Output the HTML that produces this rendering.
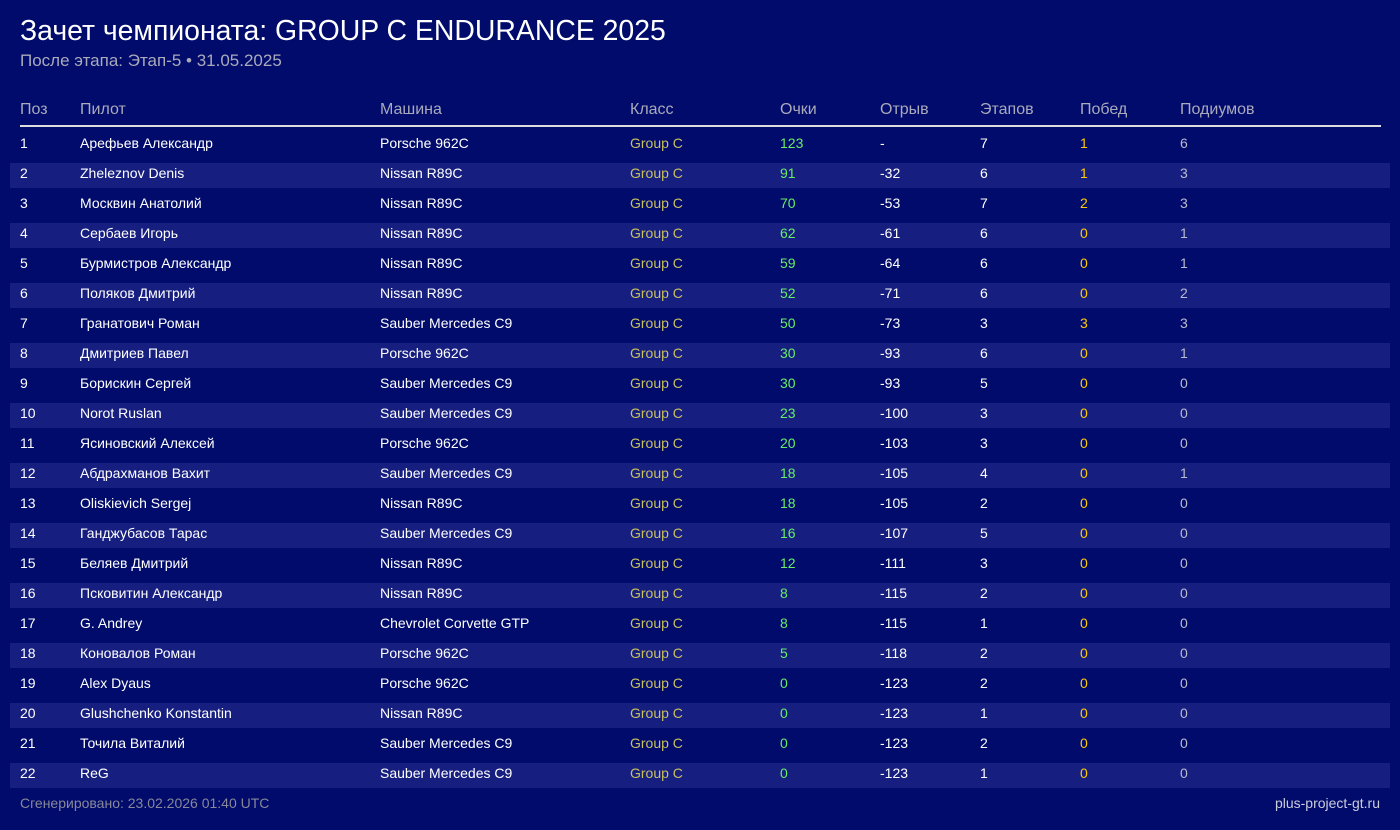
<!DOCTYPE html>
<html><head><meta charset="utf-8"><style>
body{margin:0;width:1400px;height:830px;background:#000b6b;font-family:"Liberation Sans",sans-serif;position:relative;overflow:hidden;color:#fff}
.t{position:absolute;left:20px;top:15px;font-size:28.4px;color:#fff}
.s{position:absolute;left:20px;top:51px;font-size:17px;color:#aab}
.h{position:absolute;top:101px;font-size:16px;color:#aab}
.line{position:absolute;left:20px;top:125px;width:1361px;height:2px;background:#ddd}
.r{position:absolute;left:10px;width:1380px;height:25px}
.r.a{background:#161e80}
.c{position:absolute;font-size:14px;line-height:21px;top:0}
.f1{position:absolute;left:20px;top:795px;font-size:14px;color:#889}
.f2{position:absolute;right:20px;top:795px;font-size:14px;color:#ccd}
</style></head><body>
<div class="t">Зачет чемпионата: GROUP C ENDURANCE 2025</div>
<div class="s">После этапа: Этап-5 • 31.05.2025</div>
<div class="h" style="left:20px">Поз</div><div class="h" style="left:80px">Пилот</div><div class="h" style="left:380px">Машина</div><div class="h" style="left:630px">Класс</div><div class="h" style="left:780px">Очки</div><div class="h" style="left:880px">Отрыв</div><div class="h" style="left:980px">Этапов</div><div class="h" style="left:1080px">Побед</div><div class="h" style="left:1180px">Подиумов</div>
<div class="line"></div>
<div id="rows"></div>
<div class="f1">Сгенерировано: 23.02.2026 01:40 UTC</div>
<div class="f2">plus-project-gt.ru</div>
<script>
var d=[["Арефьев Александр","Porsche 962C",123,"-",7,1,6],["Zheleznov Denis","Nissan R89C",91,-32,6,1,3],["Москвин Анатолий","Nissan R89C",70,-53,7,2,3],["Сербаев Игорь","Nissan R89C",62,-61,6,0,1],["Бурмистров Александр","Nissan R89C",59,-64,6,0,1],["Поляков Дмитрий","Nissan R89C",52,-71,6,0,2],["Гранатович Роман","Sauber Mercedes C9",50,-73,3,3,3],["Дмитриев Павел","Porsche 962C",30,-93,6,0,1],["Борискин Сергей","Sauber Mercedes C9",30,-93,5,0,0],["Norot Ruslan","Sauber Mercedes C9",23,-100,3,0,0],["Ясиновский Алексей","Porsche 962C",20,-103,3,0,0],["Абдрахманов Вахит","Sauber Mercedes C9",18,-105,4,0,1],["Oliskievich Sergej","Nissan R89C",18,-105,2,0,0],["Ганджубасов Тарас","Sauber Mercedes C9",16,-107,5,0,0],["Беляев Дмитрий","Nissan R89C",12,-111,3,0,0],["Псковитин Александр","Nissan R89C",8,-115,2,0,0],["G. Andrey","Chevrolet Corvette GTP",8,-115,1,0,0],["Коновалов Роман","Porsche 962C",5,-118,2,0,0],["Alex Dyaus","Porsche 962C",0,-123,2,0,0],["Glushchenko Konstantin","Nissan R89C",0,-123,1,0,0],["Точила Виталий","Sauber Mercedes C9",0,-123,2,0,0],["ReG","Sauber Mercedes C9",0,-123,1,0,0]];
var h="";d.forEach(function(r,i){var y=133+i*30;
h+='<div class="r'+(i%2?' a':'')+'" style="top:'+y+'px">'+
'<span class="c" style="left:10px">'+(i+1)+'</span>'+
'<span class="c" style="left:70px">'+r[0]+'</span>'+
'<span class="c" style="left:370px">'+r[1]+'</span>'+
'<span class="c" style="left:620px;color:#c8c060">Group C</span>'+
'<span class="c" style="left:770px;color:#66ee66">'+r[2]+'</span>'+
'<span class="c" style="left:870px">'+r[3]+'</span>'+
'<span class="c" style="left:970px">'+r[4]+'</span>'+
'<span class="c" style="left:1070px;color:#ffcc00">'+r[5]+'</span>'+
'<span class="c" style="left:1170px;color:#bbc">'+r[6]+'</span></div>';});
document.getElementById("rows").innerHTML=h;
</script>
</body></html>
